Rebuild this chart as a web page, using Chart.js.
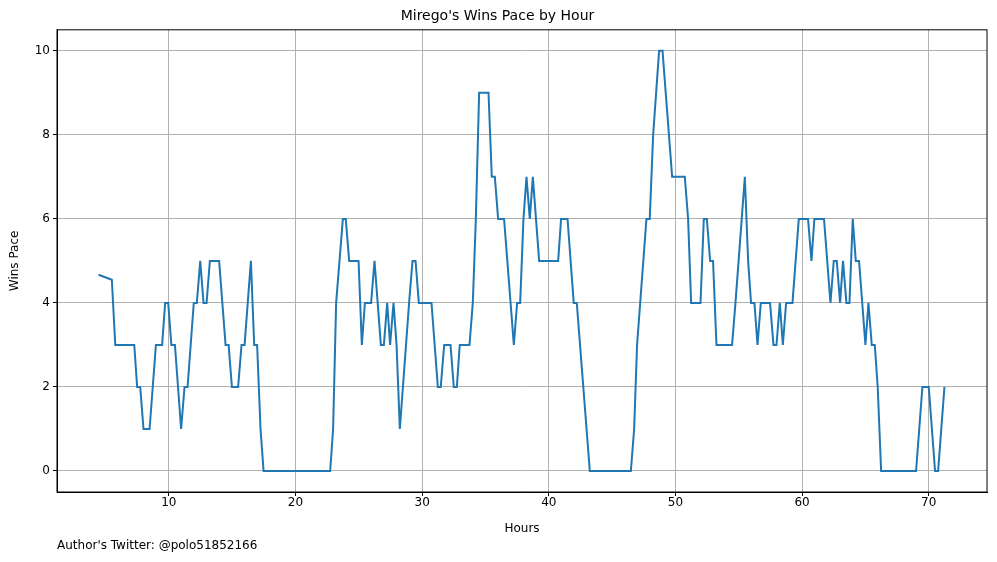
<!DOCTYPE html>
<html><head><meta charset="utf-8">
<script src="https://cdn.jsdelivr.net/npm/chart.js@4"></script>
<style>html,body{margin:0;padding:0;background:#fff}#wrap{width:997px;height:562px}</style>
</head><body><div id="wrap"><canvas id="c"></canvas></div>
<script>
const hours = [4.45,5.5,5.77,7.27,7.5,7.74,8.0,8.48,8.98,9.47,9.71,9.95,10.2,10.48,10.97,11.24,11.48,11.97,12.21,12.48,12.74,12.98,13.24,13.97,14.48,14.72,14.98,15.47,15.74,15.98,16.48,16.74,16.97,17.24,17.48,22.74,22.97,23.21,23.74,23.97,24.24,24.98,25.24,25.48,25.97,26.24,26.74,26.98,27.24,27.47,27.74,27.98,28.24,28.97,29.24,29.48,29.74,30.74,31.24,31.47,31.74,32.24,32.5,32.74,32.97,33.74,34.0,34.24,34.5,35.24,35.5,35.74,36.0,36.47,37.24,37.5,37.74,38.0,38.24,38.5,38.74,39.24,40.74,40.97,41.48,41.97,42.21,43.24,46.48,46.74,46.97,47.71,47.97,48.24,48.71,48.98,49.74,50.74,51.0,51.24,51.98,52.24,52.48,52.74,52.97,53.24,54.47,54.74,55.48,55.74,55.97,56.24,56.48,56.74,57.47,57.74,57.98,58.24,58.48,58.74,59.24,59.74,60.47,60.74,60.97,61.73,62.24,62.5,62.74,63.0,63.23,63.5,63.74,64.0,64.24,64.5,65.0,65.24,65.5,65.74,65.97,66.24,69.0,69.5,70.0,70.5,70.74,71.24];
const winsPace = [4.67,4.55,3,3,2,2,1,1,3,3,4,4,3,3,1,2,2,4,4,5,4,4,5,5,3,3,2,2,3,3,5,3,3,1,0,0,1,4,6,6,5,5,3,4,4,5,3,3,4,3,4,3,1,4,5,5,4,4,2,2,3,3,2,2,3,3,4,6,9,9,7,7,6,6,3,4,4,6,7,6,7,5,5,6,6,4,4,0,0,1,3,6,6,8,10,10,7,7,6,4,4,6,6,5,5,3,3,4,7,5,4,4,3,4,4,3,3,4,3,4,4,6,6,5,6,6,4,5,5,4,5,4,4,6,5,5,3,4,3,3,2,0,0,2,2,0,0,2];
const xTicks = [10,20,30,40,50,60,70];
const yTicks = [0,2,4,6,8,10];
const pts = hours.map((h,i)=>({x:h,y:winsPace[i]}));
const F = "'DejaVu Sans', sans-serif";
Chart.defaults.font.family = F;
Chart.defaults.color = '#000';
const footer = {id:'footer', afterDraw(ch){const c=ch.ctx;c.save();c.font="12px "+F;c.fillStyle='#000';c.textBaseline='middle';c.textAlign='left';c.fillText("Author's Twitter: @polo51852166",57,546);c.restore();}};
new Chart(document.getElementById('c'),{
  type:'scatter',
  data:{datasets:[{data:pts,showLine:true,borderColor:'#1f77b4',borderWidth:2,pointRadius:0,tension:0,fill:false}]},
  options:{responsive:true,maintainAspectRatio:false,animation:false,
    layout:{padding:{left:8,right:10,top:0,bottom:26}},
    plugins:{legend:{display:false},tooltip:{enabled:false},
      title:{display:true,text:"Mirego's Wins Pace by Hour",font:{size:14,weight:'normal'},color:'#000',padding:{top:8,bottom:5}}},
    scales:{
      x:{type:'linear',min:1.17,max:74.6,afterFit(s){s.height=44;},
        afterBuildTicks(s){s.ticks=xTicks.map(v=>({value:v}));},
        ticks:{font:{size:12},color:'#000',padding:0,maxRotation:0},
        grid:{color:'#b0b0b0',lineWidth:1,tickLength:4,tickColor:'#000'},
        border:{color:'#000',width:1},
        title:{display:true,text:'Hours',font:{size:12},color:'#000',padding:0}},
      y:{type:'linear',min:-0.5,max:10.5,afterFit(s){s.width=49;},
        afterBuildTicks(s){s.ticks=yTicks.map(v=>({value:v}));},
        ticks:{font:{size:12},color:'#000',padding:3},
        grid:{color:'#b0b0b0',lineWidth:1,tickLength:4,tickColor:'#000'},
        border:{color:'#000',width:1},
        title:{display:true,text:'Wins Pace',font:{size:12},color:'#000',padding:0}}
    }},
  plugins:[footer,{id:'topborder',afterDraw(ch){const a=ch.chartArea,c=ch.ctx;c.save();c.strokeStyle='#000';c.lineWidth=1;c.strokeRect(a.left,a.top,a.right-a.left,a.bottom-a.top);c.restore();}}]
});
</script></body></html>
